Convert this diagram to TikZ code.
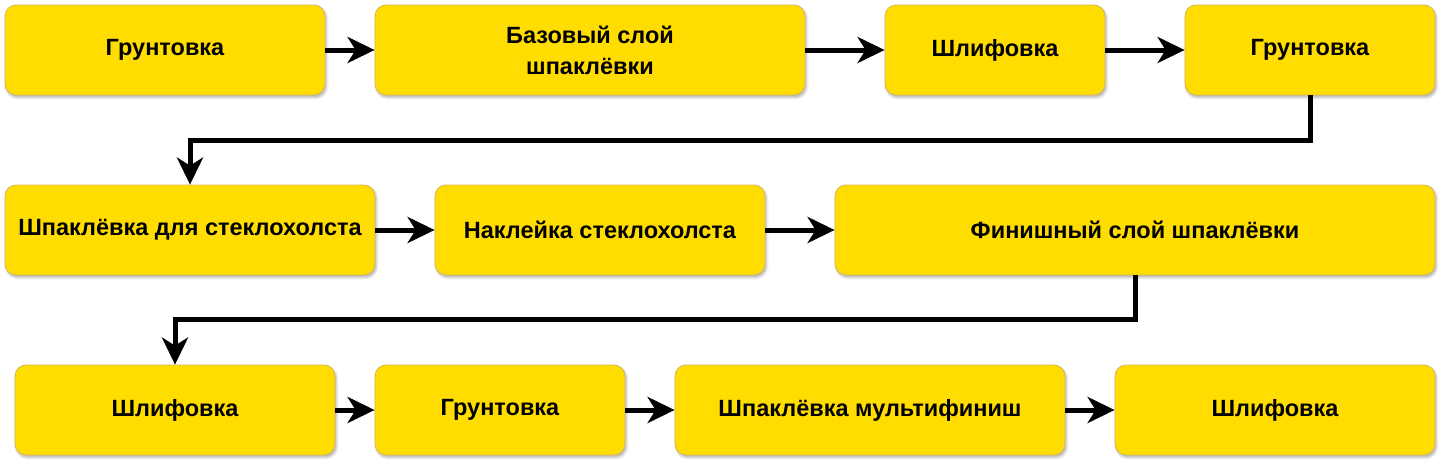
\documentclass[tikz,border=0pt]{standalone}
\usepackage{fontspec}
\setmainfont{Liberation Sans}
\usetikzlibrary{arrows.meta,shadows.blur}
\definecolor{boxfill}{HTML}{FFDD00}
\definecolor{boxline}{HTML}{D6B656}
\tikzset{
  x=1pt,y=-1pt,
  stepbox/.style={draw=boxline, line width=0.8pt, fill=boxfill, rounded corners=11pt,
    minimum height=90pt, inner sep=0pt, align=center,
    font=\fontsize{23.5}{31}\selectfont\bfseries,
    blur shadow={shadow xshift=1.5pt, shadow yshift=-2.5pt, shadow blur radius=2.5pt, shadow opacity=30}},
  conn/.style={line width=5pt, -{Stealth[length=27pt,width=26pt,inset=8pt]}}
}
\begin{document}
\begin{tikzpicture}
\useasboundingbox (0,0) rectangle (1443,463);
\node[stepbox, minimum width=320pt] (b1) at (165,50) {Грунтовка};
\node[stepbox, minimum width=430pt] (b2) at (590,50) {Базовый слой\\шпаклёвки};
\node[stepbox, minimum width=220pt] (b3) at (995,50) {Шлифовка};
\node[stepbox, minimum width=250pt] (b4) at (1310,50) {Грунтовка};
\node[stepbox, minimum width=370pt] (b5) at (190,230) {Шпаклёвка для стеклохолста};
\node[stepbox, minimum width=330pt] (b6) at (600,230) {Наклейка стеклохолста};
\node[stepbox, minimum width=600pt] (b7) at (1135,230) {Финишный слой шпаклёвки};
\node[stepbox, minimum width=320pt] (b8) at (175,410) {Шлифовка};
\node[stepbox, minimum width=250pt] (b9) at (500,410) {Грунтовка};
\node[stepbox, minimum width=390pt] (b10) at (870,410) {Шпаклёвка мультифиниш};
\node[stepbox, minimum width=320pt] (b11) at (1275,410) {Шлифовка};
\draw[conn] (b1) -- (b2);
\draw[conn] (b2) -- (b3);
\draw[conn] (b3) -- (b4);
\draw[conn] (b4.south) -- ++(0,45) -| (b5.north);
\draw[conn] (b5) -- (b6);
\draw[conn] (b6) -- (b7);
\draw[conn] (b7.south) -- ++(0,44) -| (b8.north);
\draw[conn] (b8) -- (b9);
\draw[conn] (b9) -- (b10);
\draw[conn] (b10) -- (b11);
\end{tikzpicture}
\end{document}
